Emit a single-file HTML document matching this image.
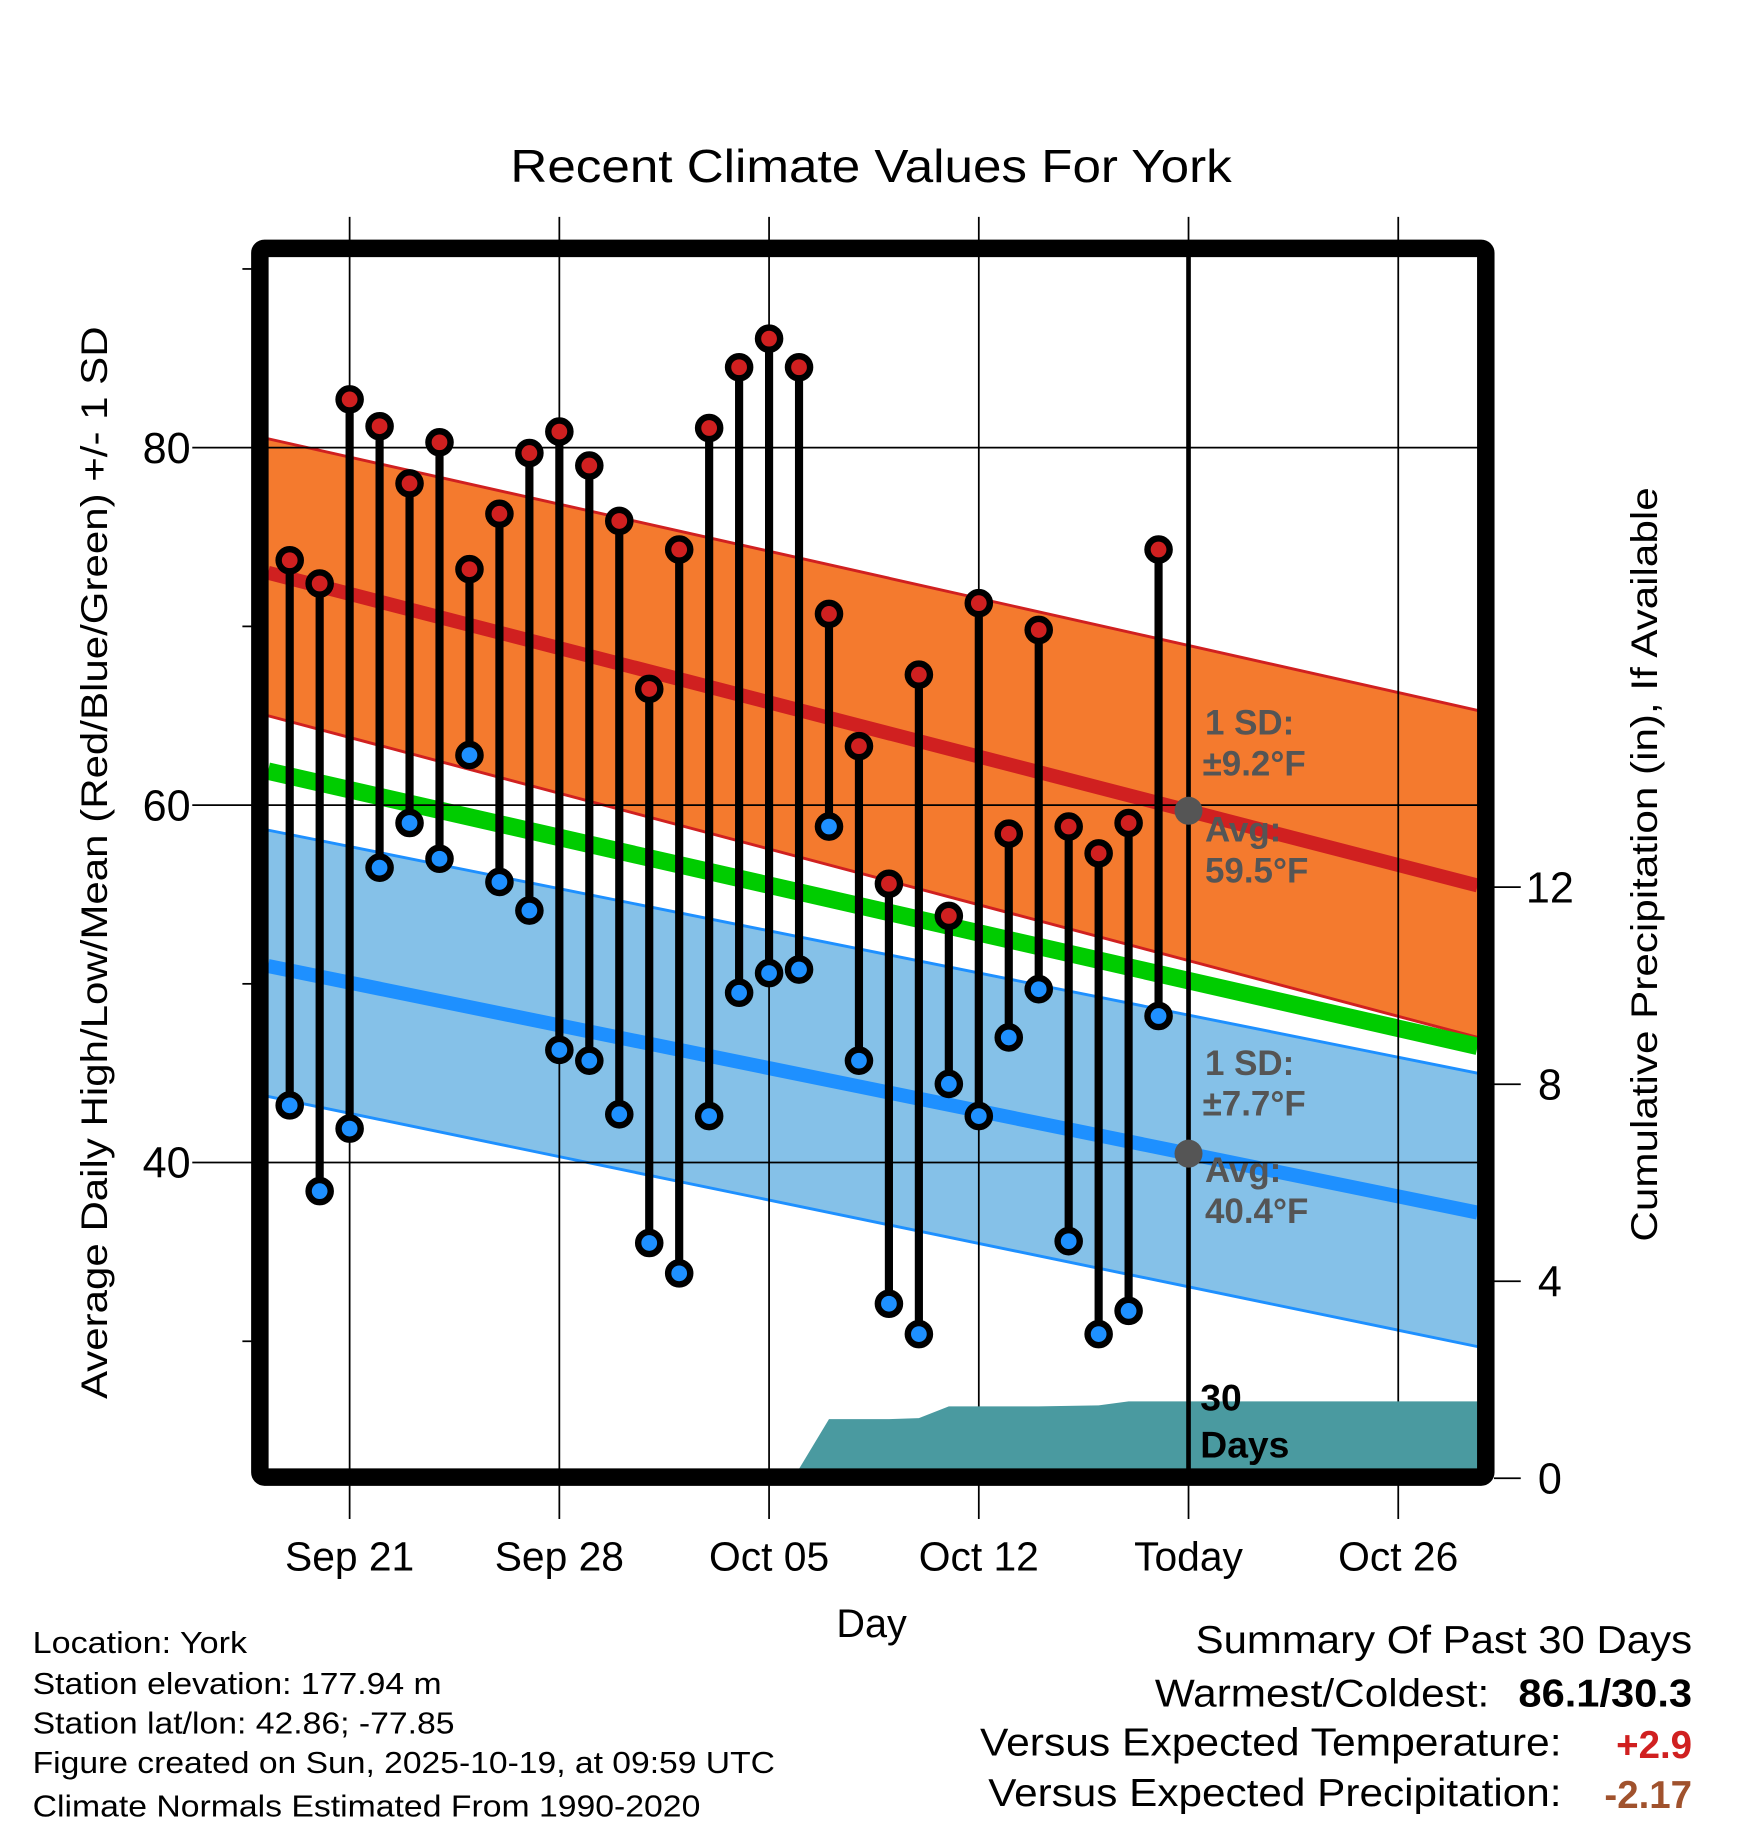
<!DOCTYPE html>
<html><head><meta charset="utf-8"><style>
html,body{margin:0;padding:0;background:#fff;}
svg{display:block;font-family:"Liberation Sans",sans-serif;}
</style></head><body>
<svg id="chart" width="1748" height="1828" viewBox="0 0 1500 1568" preserveAspectRatio="none" xmlns="http://www.w3.org/2000/svg">
<rect width="1500" height="1568" fill="#fff"/>
<text x="438" y="156" font-size="40" textLength="619" lengthAdjust="spacingAndGlyphs">Recent Climate Values For York</text>
<g id="bands"></g>
<g id="grid"></g>
<g id="precip"></g>
<g id="marks"></g>
<g id="annot"></g>
<rect x="223" y="213" width="1052" height="1054" fill="none" stroke="#000" stroke-width="15" rx="4"/>
<g id="axes"></g>
<text transform="translate(92,1200) rotate(-90)" font-size="32" textLength="920" lengthAdjust="spacingAndGlyphs">Average Daily High/Low/Mean (Red/Blue/Green) +/- 1 SD</text>
<text transform="translate(1422,1065) rotate(-90)" font-size="32" textLength="647" lengthAdjust="spacingAndGlyphs">Cumulative Precipitation (in), If Available</text>
<text x="748" y="1404" font-size="34" text-anchor="middle">Day</text>
<g font-size="26">
<text x="28" y="1418" textLength="184" lengthAdjust="spacingAndGlyphs">Location: York</text>
<text x="28" y="1453" textLength="351" lengthAdjust="spacingAndGlyphs">Station elevation: 177.94 m</text>
<text x="28" y="1487" textLength="362" lengthAdjust="spacingAndGlyphs">Station lat/lon: 42.86; -77.85</text>
<text x="28" y="1521" textLength="637" lengthAdjust="spacingAndGlyphs">Figure created on Sun, 2025-10-19, at 09:59 UTC</text>
<text x="28" y="1558" textLength="573" lengthAdjust="spacingAndGlyphs">Climate Normals Estimated From 1990-2020</text>
</g>
<g font-size="33">
<text x="1026" y="1418" textLength="426" lengthAdjust="spacingAndGlyphs">Summary Of Past 30 Days</text>
<text x="991" y="1464" textLength="287" lengthAdjust="spacingAndGlyphs">Warmest/Coldest:</text>
<text x="1303" y="1464" font-weight="bold" textLength="149" lengthAdjust="spacingAndGlyphs">86.1/30.3</text>
<text x="841" y="1506" textLength="499" lengthAdjust="spacingAndGlyphs">Versus Expected Temperature:</text>
<text x="1452" y="1508" text-anchor="end" font-weight="bold" fill="#d02020">+2.9</text>
<text x="848" y="1549" textLength="492" lengthAdjust="spacingAndGlyphs">Versus Expected Precipitation:</text>
<text x="1452" y="1551" text-anchor="end" font-weight="bold" fill="#a0522d">-2.17</text>
</g>
</svg>
<script>
const highs=[73.7,72.4,82.7,81.2,78.0,80.3,73.2,76.3,79.7,80.9,79.0,75.9,66.5,74.3,81.1,84.5,86.1,84.5,70.7,63.3,55.6,67.3,53.8,71.3,58.4,69.8,58.8,57.3,59.0,74.3];
const lows=[43.2,38.4,41.9,56.5,59.0,57.0,62.8,55.7,54.1,46.3,45.7,42.7,35.5,33.8,42.6,49.5,50.6,50.8,58.8,45.7,32.1,30.4,44.4,42.6,47.0,49.7,35.6,30.4,31.7,48.2];
const precip=[0,0,0,0,0,0,0,0,0,0,0,0,0,0,0,0,0,0,1.2,1.2,1.2,1.22,1.46,1.46,1.46,1.46,1.47,1.48,1.56,1.56];
const xTickLabels=["Sep 21","Sep 28","Oct 05","Oct 12","Today","Oct 26"];
const xTickDays=[2,9,16,23,30,37];
const yTickValues=[80,60,40];
const yMinorValues=[90,70,50,30];
const y2TickValues=[0,4,8,12];
const hiTop=[80.5,65.3], hiMean=[73.0,55.5], hiBot=[65.0,47.0];
const loTop=[58.6,45.0], loMean=[51.0,37.2], loBot=[43.7,29.7];
const normMean=[61.9,46.5];

const NS="http://www.w3.org/2000/svg";
const X0=230,X1=1268,Y0=220,Y1=1260;
const xd=d=>248.6+d*25.71;
const yT=t=>384+(80-t)*15.33;
const yP=p=>1268-p*42.25;
function mk(tag,attrs,parent){const e=document.createElementNS(NS,tag);for(const k in attrs)e.setAttribute(k,attrs[k]);parent.appendChild(e);return e;}
const bands=document.getElementById('bands'),grid=document.getElementById('grid'),pg=document.getElementById('precip'),marks=document.getElementById('marks'),annot=document.getElementById('annot'),axes=document.getElementById('axes');

function band(top,bot,fill,edge,name){
  const p=mk('polygon',{points:`${X0},${yT(top[0])} ${X1},${yT(top[1])} ${X1},${yT(bot[1])} ${X0},${yT(bot[0])}`,fill:fill},bands);
  
  
  [top,bot].forEach(a=>{mk('line',{x1:X0,y1:yT(a[0]),x2:X1,y2:yT(a[1]),stroke:edge,'stroke-width':2.5},bands);});
}
band(loTop,loBot,'#85c1e8','#1e90ff','low-sd-band');
band(hiTop,hiBot,'#f47a2e','#d02020','high-sd-band');
function mline(a,color,w,name){const l=mk('line',{x1:X0,y1:yT(a[0]),x2:X1,y2:yT(a[1]),stroke:color,'stroke-width':w},bands);

}
mline(normMean,'#00cc00',15,'normal-mean-line');
mline(hiMean,'#d02020',12,'high-mean-line');
mline(loMean,'#1e90ff',12,'low-mean-line');

yTickValues.forEach(v=>{mk('line',{x1:165,y1:yT(v),x2:X1,y2:yT(v),stroke:'#000','stroke-width':1.5},grid);
 const t=mk('text',{x:143,y:yT(v)+13,'font-size':37,'text-anchor':'middle'},axes);t.textContent=v;
 
 });
yMinorValues.forEach(v=>{mk('line',{x1:208,y1:yT(v),x2:218,y2:yT(v),stroke:'#000','stroke-width':1.5},axes);});
xTickDays.forEach((d,i)=>{const x=xd(d);
 mk('line',{x1:x,y1:186,x2:x,y2:1303,stroke:'#000','stroke-width':1.5},grid);
 const t=mk('text',{x:x,y:1347,'font-size':35,'text-anchor':'middle'},axes);t.textContent=xTickLabels[i];
 
 });
y2TickValues.forEach(v=>{mk('line',{x1:1282,y1:yP(v),x2:1305,y2:yP(v),stroke:'#000','stroke-width':1.5},axes);
 const t=mk('text',{x:1330,y:yP(v)+13,'font-size':37,'text-anchor':'middle'},axes);t.textContent=v;
 
 });

let pts=`${xd(0)},${Y1} `;
precip.forEach((p,i)=>{pts+=`${xd(i)},${Math.min(Y1,yP(p))} `;});
pts+=`${X1},${Math.min(Y1,yP(precip[precip.length-1]))} ${X1},${Y1}`;
const pa=mk('polygon',{points:pts,fill:'#4a9aa0'},pg);



const tl=mk('line',{x1:xd(30),y1:Y0,x2:xd(30),y2:Y1,stroke:'#000','stroke-width':4},marks);



highs.forEach((h,i)=>{const x=xd(i);
 const s=mk('line',{x1:x,y1:yT(h),x2:x,y2:yT(lows[i]),stroke:'#000','stroke-width':7},marks);
 
 });
highs.forEach((h,i)=>{const x=xd(i);
 const c1=mk('circle',{cx:x,cy:yT(h),r:9.5,fill:'#d02020',stroke:'#000','stroke-width':5.5},marks);
 
 
 const c2=mk('circle',{cx:x,cy:yT(lows[i]),r:9.5,fill:'#1e90ff',stroke:'#000','stroke-width':5.5},marks);
 
 });

const tx=xd(30);
function lerp(a){return a[0]+(a[1]-a[0])*(tx-X0)/(X1-X0);}
[[lerp(hiMean),'high'],[lerp(loMean),'low']].forEach(([v,n])=>{const c=mk('circle',{cx:tx,cy:yT(v),r:12,fill:'#555'},annot);
 
 });
function at(x,y,s,fs,fill,name){const t=mk('text',{x:x,y:y,'font-size':fs,'font-weight':'bold',fill:fill},annot);t.textContent=s;
 
 }
at(1034,630,'1 SD:',30,'#555','high-sd-label');
at(1032,665,'±9.2°F',30,'#555','high-sd-value');
at(1034,722,'Avg:',30,'#555','high-avg-label');
at(1034,757,'59.5°F',30,'#555','high-avg-value');
at(1034,922,'1 SD:',30,'#555','low-sd-label');
at(1032,957,'±7.7°F',30,'#555','low-sd-value');
at(1034,1014,'Avg:',30,'#555','low-avg-label');
at(1034,1049,'40.4°F',30,'#555','low-avg-value');
at(1030,1210,'30',32,'#000','days-label-1');
at(1030,1250,'Days',32,'#000','days-label-2');
</script>
</body></html>
